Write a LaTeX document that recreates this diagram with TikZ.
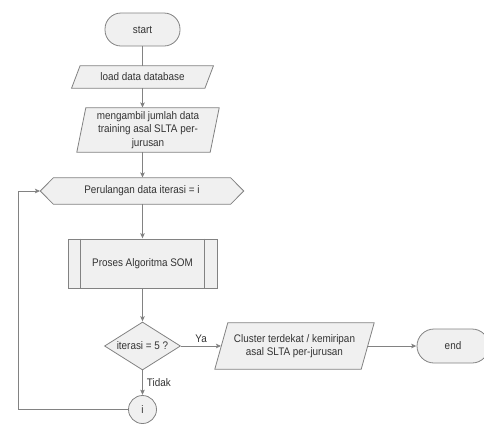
\documentclass[tikz,border=0pt]{standalone}
\usepackage{fontspec}
\setmainfont[FakeStretch=0.9]{Liberation Sans}
\usetikzlibrary{shapes.geometric,arrows.meta,backgrounds,calc}
\definecolor{ln}{HTML}{828282}
\definecolor{fl}{HTML}{F0F0F0}
\definecolor{tx}{HTML}{333333}
\newcommand\parashape[2]{\draw[shp] ($(#1.north west)+(#2,0)$) -- ($(#1.north east)+(#2,0)$) -- ($(#1.south east)-(#2,0)$) -- ($(#1.south west)-(#2,0)$) -- cycle;}
\begin{document}
\begin{tikzpicture}[x=1pt,y=-1pt,
  base/.style={text=tx, font=\fontsize{11}{13.5}\selectfont, align=center, inner sep=0pt},
  shp/.style={draw=ln, fill=fl, line width=0.8pt},
  term/.style={base, shp, rounded corners=16pt, minimum width=75pt, minimum height=33pt},
  con/.style={draw=ln, line width=0.8pt},
  arr/.style={con, -{Stealth[length=5pt,width=4.5pt,inset=1pt]}, shorten >=0.3pt},
  lbl/.style={text=tx, font=\fontsize{11}{13.5}\selectfont, inner sep=0pt}
]
\useasboundingbox (0,0) rectangle (484,424);
\clip (0,0) rectangle (484,424);

\node[term] (start) at (142.5,29.5) {start};
\node[base, minimum width=133pt, minimum height=22pt] (load) at (142.5,77) {load data database};
\node[base, minimum width=133pt, minimum height=44pt] (meng) at (148,130) {mengambil jumlah data\\training asal SLTA per-\\jurusan};
\node[base, minimum width=177pt, minimum height=26pt] (hex) at (142,191) {Perulangan data iterasi = i};
\coordinate (hexL) at ($(hex.west)-(13,0)$);
\node[base, shp, minimum width=149pt, minimum height=49pt] (proc) at (142.5,263.5) {Proses Algoritma SOM};
\node[base, shp, diamond, aspect=1.6, minimum width=76pt, minimum height=48pt] (dia) at (142.5,346) {iterasi = 5 ?};
\node[base, shp, circle, minimum size=28pt] (cir) at (142.5,409.5) {i};
\node[base, minimum width=146pt, minimum height=46pt] (clu) at (294.5,346) {Cluster terdekat / kemiripan\\asal SLTA per-jurusan};
\node[term, rounded corners=17pt, minimum width=72pt, minimum height=34pt] (end) at (453,346) {end};
\coordinate (loopx) at (18,0);

\begin{pgfonlayer}{background}
\parashape{load}{4.25}
\parashape{meng}{4.5}
\parashape{clu}{6.5}
\draw[shp] (hex.north west) -- (hex.north east) -- ($(hex.east)+(13,0)$) -- (hex.south east) -- (hex.south west) -- (hexL) -- cycle;
\end{pgfonlayer}
\draw[con] ($(proc.north west)+(13,0)$) -- ($(proc.south west)+(13,0)$);
\draw[con] ($(proc.north east)-(13,0)$) -- ($(proc.south east)-(13,0)$);

\draw[con] (start) -- (load);
\draw[arr] (load) -- (load |- meng.north);
\draw[arr] (load |- meng.south) -- (load |- hex.north);
\draw[arr] (load |- hex.south) -- (proc);
\draw[arr] (proc) -- (dia);
\draw[arr] (dia) -- (cir) node[lbl, pos=0.5, anchor=west, xshift=4pt] {Tidak};
\draw[arr] (dia) -- (clu) node[lbl, pos=0.5, above=3pt] {Ya};
\draw[arr] (clu) -- (end);
\draw[arr] (cir.west) -| (loopx |- hexL) -- (hexL);
\end{tikzpicture}
\end{document}
